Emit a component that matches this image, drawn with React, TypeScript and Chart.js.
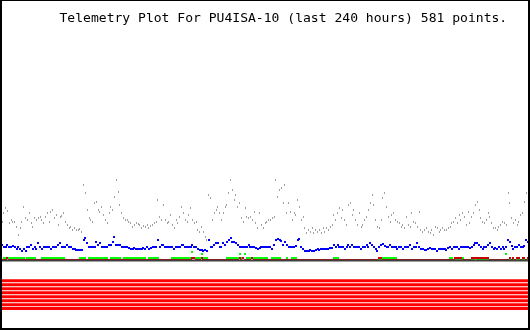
import React, { useEffect, useRef } from 'react';
import { Chart, registerables } from 'chart.js';

Chart.register(...registerables);

const TITLE = 'Telemetry Plot For PU4ISA-10 (last 240 hours) 581 points.';

// Analog channel 1 (gray)
const grayValues = [
  39,48,53,50,38,41,39,39,34,26,33,39,54,43,41,48,38,34,43,41,43,44,41,38,44,48,39,49,51,43,46,36,44,
  45,48,39,36,33,34,31,33,31,31,32,29,76,68,51,43,41,39,58,59,51,49,54,46,41,38,48,54,51,64,81,69,56,
  48,43,41,41,39,38,34,36,38,37,36,33,35,34,36,33,35,36,38,39,61,44,41,56,41,38,39,46,36,33,41,38,44,
  54,48,41,39,46,53,41,38,39,31,29,34,29,24,21,66,63,41,48,51,54,48,41,48,54,56,68,81,71,61,66,54,58,
  43,39,53,44,43,44,41,49,38,33,48,36,33,38,39,41,41,43,44,81,64,71,73,58,76,48,58,49,41,48,46,61,54,
  41,44,33,28,31,29,33,28,31,29,31,28,33,29,33,31,34,36,46,41,48,53,43,51,41,36,56,58,46,51,41,36,48,
  34,36,41,44,51,58,66,56,41,34,33,41,63,68,54,44,39,46,48,41,39,38,34,36,33,44,36,34,48,39,38,34,49,
  31,29,31,33,29,28,31,26,34,33,29,31,33,31,31,33,34,38,39,43,38,46,41,48,44,36,49,38,44,48,56,59,51,
  43,39,38,41,48,44,38,33,33,31,34,36,39,38,36,68,58,43,38,41,36,39,46,48,59,68,64,
];

// Analog channel 2 (blue)
const blueValues = [
  16,13,14,16,13,14,15,13,11,13,11,9,11,9,13,14,16,11,13,11,18,13,11,14,13,14,13,11,13,14,14,16,18,
  14,13,14,16,14,13,11,11,10,10,10,10,21,23,18,13,13,13,14,19,16,18,14,13,13,14,16,16,19,24,16,16,16,
  14,13,13,13,12,11,11,12,11,11,11,11,12,11,13,11,12,13,13,13,21,14,16,16,14,13,13,14,13,11,13,13,14,
  16,16,14,13,14,13,16,14,13,11,10,10,9,10,9,21,13,13,16,18,18,14,14,18,16,19,21,23,19,19,18,16,14,
  14,13,14,14,16,14,14,13,12,11,12,14,13,13,13,13,14,11,16,21,22,21,20,16,19,16,14,14,14,14,15,21,22,
  14,11,9,9,9,10,9,9,10,11,10,11,11,11,11,11,12,12,16,14,16,13,14,13,11,14,16,14,16,14,13,14,14,
  11,13,13,16,14,18,16,13,11,9,13,16,17,15,13,13,16,14,13,14,11,13,13,11,13,14,13,16,11,13,14,18,13,
  11,11,10,10,11,12,11,11,11,9,11,11,11,11,10,12,13,11,13,14,13,11,14,13,14,13,13,12,14,16,18,18,16,
  14,11,13,14,16,18,13,11,12,11,13,11,13,11,13,21,19,15,11,14,14,16,14,13,15,21,19,
];

// Analog channel 3 (green)
const greenValues = [
  0,2,2,2,2,2,2,2,2,2,2,2,2,0,2,2,2,2,2,0,0,0,2,2,2,2,2,2,2,2,2,2,2,
  2,2,0,0,0,0,0,0,0,0,2,2,2,2,0,2,2,2,2,2,2,2,2,2,2,2,0,2,2,2,2,2,2,
  0,2,2,2,2,2,2,2,2,2,2,2,2,2,0,2,2,2,2,2,2,0,0,0,0,0,0,0,2,2,2,2,2,
  2,2,2,2,2,2,8,2,2,2,2,6,2,2,2,0,0,0,0,0,0,0,0,0,0,2,2,2,2,2,2,2,6,
  2,2,6,2,2,2,2,2,2,2,2,2,2,2,2,0,0,2,2,2,2,2,0,0,0,2,0,0,2,2,2,0,0,
  0,0,0,0,0,0,0,0,0,0,0,0,0,0,0,0,0,0,2,2,2,0,0,0,0,0,0,0,0,0,0,0,0,
  0,0,0,0,0,0,0,0,0,0,0,0,2,2,2,2,2,2,2,2,0,0,0,0,0,0,0,0,0,0,0,0,0,
  0,0,0,0,0,0,0,0,0,0,0,0,0,0,0,0,2,2,0,0,0,0,0,2,0,0,0,0,0,0,2,0,0,
  0,0,0,0,0,0,0,0,0,0,0,0,0,0,6,0,0,0,0,0,0,0,0,0,0,0,0,
];

// Analog channel 4 (red)
const redValues = [
  0,0,0,2,0,0,0,0,0,0,0,0,0,0,0,0,0,0,0,0,0,0,0,0,0,0,0,0,0,0,0,0,0,
  0,0,0,0,0,0,0,0,0,0,0,0,0,0,0,0,0,0,0,0,0,0,0,0,0,0,0,0,0,0,0,0,0,
  0,0,0,0,0,0,0,0,0,0,0,0,0,0,0,0,0,0,0,0,0,0,0,0,0,0,0,0,0,0,0,0,0,
  0,0,0,0,0,0,2,2,0,0,0,2,0,0,0,0,0,0,0,0,0,0,0,0,0,0,0,0,0,0,0,0,2,
  0,2,0,0,0,0,2,0,0,0,0,0,0,0,0,0,0,0,0,0,0,0,0,0,0,0,0,0,0,0,0,0,0,
  0,0,0,0,0,0,0,0,0,0,0,0,0,0,0,0,0,0,0,0,0,0,0,0,0,0,0,0,0,0,0,0,0,
  0,0,0,0,0,0,0,0,0,0,2,2,0,0,0,0,0,0,0,0,0,0,0,0,0,0,0,0,0,0,0,0,0,
  0,0,0,0,0,0,0,0,0,0,0,0,0,0,0,0,0,0,0,2,2,2,2,0,0,0,0,0,2,2,2,2,2,
  2,2,2,2,2,0,0,0,0,0,0,0,0,0,0,0,2,0,2,0,2,2,0,2,2,0,2,
];

// Digital bits (all set over the period)
const bitRows = [0, 1, 2, 3, 4, 5, 6, 7];
const bitStates = [1, 1, 1, 1, 1, 1, 1, 1];

function makeDot(color: string, w: number, h: number) {
  const c = document.createElement('canvas');
  c.width = w;
  c.height = h;
  const g = c.getContext('2d')!;
  g.fillStyle = color;
  g.fillRect(0, 0, w, h);
  return c;
}

export default function App() {
  const ref = useRef<HTMLCanvasElement>(null);

  useEffect(() => {
    const canvas = ref.current!;
    const lastIndex = grayValues.length - 1;
    const toPts = (arr: number[]) => arr.map((v, i) => ({ x: i, y: v }));

    const pointSet = (label: string, arr: number[], color: string, w: number) => ({
      label,
      data: toPts(arr),
      showLine: false,
      pointStyle: makeDot(color, w, 2),
      pointRadius: 1,
      pointHoverRadius: 1,
      pointBorderWidth: 0,
      backgroundColor: color,
      borderColor: color,
      yAxisID: 'y',
    });

    const bitSets = bitRows
      .filter((k) => bitStates[k] === 1)
      .map((k) => ({
        label: 'bit' + k,
        data: [
          { x: 0, y: k },
          { x: lastIndex, y: k },
        ],
        showLine: true,
        borderColor: '#ff0000',
        borderWidth: 3,
        pointRadius: 0,
        yAxisID: 'yb',
      }));

    const framePlugin = {
      id: 'frame',
      beforeDatasetsDraw(chart: any) {
        chart.ctx.imageSmoothingEnabled = false;
      },
      afterDraw(chart: any) {
        const ctx = chart.ctx as CanvasRenderingContext2D;
        ctx.save();
        ctx.fillStyle = '#000000';
        ctx.fillRect(0, 0, 2, 330);
        ctx.fillRect(0, 0, 530, 1);
        ctx.fillRect(528, 0, 2, 330);
        ctx.fillRect(0, 328, 530, 2);
        const family = '"DejaVu Sans Mono", "Liberation Mono", monospace';
        ctx.font = '13px ' + family;
        const w = ctx.measureText(TITLE).width;
        const size = (13 * 448) / w;
        ctx.font = size.toFixed(2) + 'px ' + family;
        ctx.textAlign = 'left';
        ctx.textBaseline = 'alphabetic';
        ctx.fillText(TITLE, 59.5, 22);
        ctx.restore();
      },
    };

    const chart = new Chart(canvas, {
      type: 'scatter',
      data: {
        datasets: [
          {
            label: 'baseline',
            data: [
              { x: 0, y: 0 },
              { x: lastIndex, y: 0 },
            ],
            showLine: true,
            borderColor: '#404040',
            borderWidth: 2,
            pointRadius: 0,
            yAxisID: 'y',
          },
          pointSet('A4', redValues, '#cc0000', 2),
          pointSet('A3', greenValues, '#00ff00', 2),
          pointSet('A2', blueValues, '#0000ff', 2),
          pointSet('A1', grayValues, '#a0a0a0', 1),
          ...bitSets,
        ] as any,
      },
      options: {
        responsive: false,
        animation: false,
        devicePixelRatio: 1,
        events: [],
        layout: { padding: { left: 2, right: 2, top: 0, bottom: 0 } },
        plugins: {
          legend: { display: false },
          title: { display: false },
          tooltip: { enabled: false },
        },
        scales: {
          x: { type: 'linear', min: 0, max: lastIndex, display: false },
          y: { type: 'linear', min: -69, max: 261, display: false },
          yb: { type: 'linear', min: -70.375, max: 12.125, reverse: true, display: false },
        },
      } as any,
      plugins: [framePlugin],
    });

    return () => chart.destroy();
  }, []);

  return (
    <div style={{ position: 'fixed', left: 0, top: 0, width: 530, height: 330, background: '#ffffff' }}>
      <canvas ref={ref} width={530} height={330} style={{ display: 'block' }} />
    </div>
  );
}
